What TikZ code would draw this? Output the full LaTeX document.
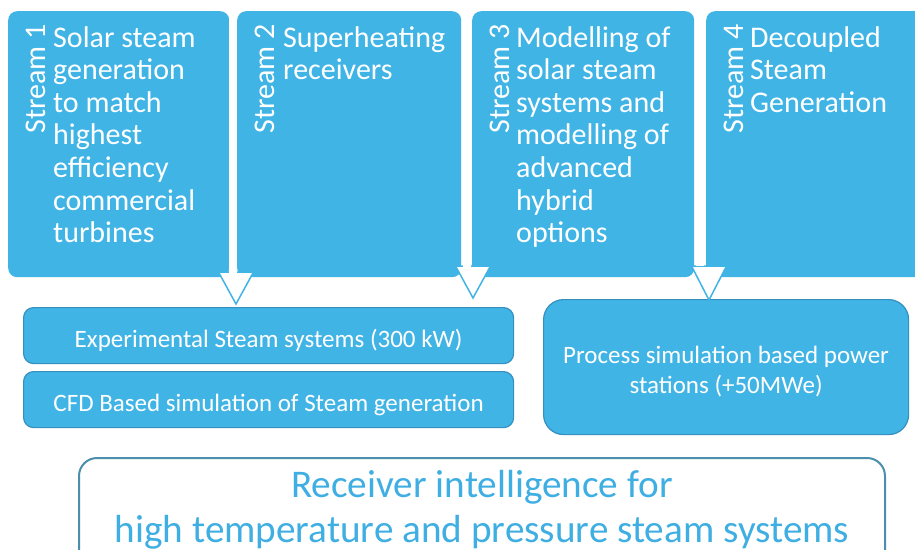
\documentclass[tikz,border=0pt]{standalone}
\usepackage{fontspec}
\setmainfont{Carlito}
\usetikzlibrary{calc}

\definecolor{streamblue}{HTML}{41B4E6}
\definecolor{edgeblue}{HTML}{3590C0}
\definecolor{frameblue}{HTML}{4A8FAE}
\definecolor{titleblue}{HTML}{3FAEE2}

\tikzset{
  streambox/.style={fill=streamblue, draw=none, rounded corners=9pt, anchor=north west,
    inner sep=0pt, minimum height=266pt},
  streamlabel/.style={rotate=90, anchor=base east, inner sep=0pt, text=white,
    font=\fontsize{30}{32}\selectfont},
  streamtext/.style={anchor=base west, inner sep=0pt, text=white},
  taskbox/.style={fill=streamblue, draw=edgeblue, line width=1.2pt, anchor=north west,
    inner sep=0pt, text=white, font=\fontsize{25}{30}\selectfont},
  goalbox/.style={fill=white, draw=frameblue, line width=2pt, rounded corners=18pt,
    anchor=north west, inner sep=0pt},
  shaft/.style={draw=white, line width=8pt},
  headtip/.style={fill=white, draw=streamblue, line width=1.5pt, line join=miter}
}

\newcommand{\streamlines}[1]{\parbox[t]{185pt}{\fontsize{30}{32.6}\selectfont\raggedright #1}}

\begin{document}
\begin{tikzpicture}[x=1pt, y=-1pt]
  \clip (0,0) rectangle (915,549);
  \fill[white] (0,0) rectangle (915,549);

  % four research streams
  \node[streambox, minimum width=221pt] (s1) at (8,11) {};
  \node[streambox, minimum width=224pt] (s2) at (237,11) {};
  \node[streambox, minimum width=222pt] (s3) at (472,11) {};
  \node[streambox, minimum width=240pt] (s4) at (706,11) {};

  \foreach \s/\n in {s1/1, s2/2, s3/3, s4/4}
    \node[streamlabel] at ($(\s.north west)+(37,13)$) {Stream \n};

  \node[streamtext] at ($(s1.north west)+(45,36)$)
    {\streamlines{Solar steam\\generation\\to match\\highest\\efficiency\\commercial\\turbines}};
  \node[streamtext] at ($(s2.north west)+(46,36)$)
    {\streamlines{Superheating\\receivers}};
  \node[streamtext] at ($(s3.north west)+(44,36)$)
    {\streamlines{Modelling of\\solar steam\\systems and\\modelling of\\advanced\\hybrid\\options}};
  \node[streamtext] at ($(s4.north west)+(44,36)$)
    {\streamlines{Decoupled\\Steam\\Generation}};

  % activities fed by the streams
  \node[taskbox, rounded corners=10pt, minimum width=490pt, minimum height=56pt,
        text height=24pt, text depth=0pt] (exp) at (23,307)
    {Experimental Steam systems (300 kW)};
  \node[taskbox, rounded corners=10pt, minimum width=490pt, minimum height=56pt,
        text height=24pt, text depth=0pt] (cfd) at (23,371)
    {CFD Based simulation of Steam generation};
  \node[taskbox, rounded corners=20pt, minimum width=365pt, minimum height=135pt,
        text height=24pt, text depth=31pt] (proc) at (543,299)
    {\parbox[t]{360pt}{\centering\fontsize{25}{30}\selectfont
      Process simulation based power\\stations (+50MWe)}};

  % overall goal
  \node[goalbox, minimum width=806pt, minimum height=130pt] (goal) at (78,457) {};
  \node[anchor=base, inner sep=0pt, text=titleblue] at ($(goal.north)+(0,40)$)
    {\parbox[t]{800pt}{\centering\fontsize{39.2}{45}\selectfont
      Receiver intelligence for\\high temperature and pressure steam systems}};

  % arrows from the gaps between streams to the activities
  \coordinate (h1) at ($(exp.north west)+(213,-3)$);
  \coordinate (h2) at ($(exp.north west)+(450,-9)$);
  \coordinate (h3) at ($(proc.north west)+(166,1)$);

  \draw[headtip] (h1) -- ++(-17.5,-32) -- ++(35,0) -- cycle;
  \draw[headtip] (h2) -- ++(-17.5,-32) -- ++(35,0) -- cycle;
  \draw[headtip] (h3) -- ++(-17.5,-34) -- ++(35,0) -- cycle;

  \draw[shaft] ($(s1.north east)!.5!(s2.north west)$) -- ($(s1.north east)!.5!(s2.north west)+(0,262)$);
  \draw[shaft] ($(s2.north east)!.5!(s3.north west)$) -- ($(s2.north east)!.5!(s3.north west)+(0,257)$);
  \draw[shaft] ($(s3.north east)!.5!(s4.north west)$) -- ($(s3.north east)!.5!(s4.north west)+(0,255)$);
\end{tikzpicture}
\end{document}
